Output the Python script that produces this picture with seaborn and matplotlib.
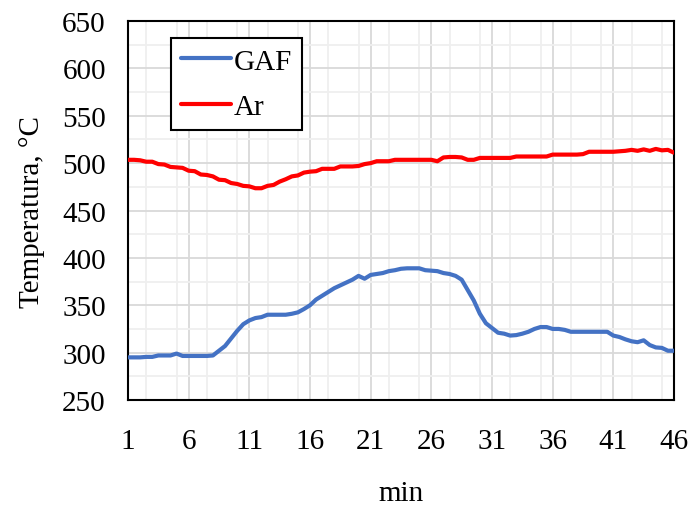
import numpy as np
import pandas as pd
import matplotlib
matplotlib.use("Agg")
import matplotlib.pyplot as plt
import seaborn as sns
from matplotlib.ticker import MultipleLocator

minutes = [1.0 + 0.5 * i for i in range(91)]

gaf = [295, 295, 295, 295.5, 295.5, 297, 297, 297, 299, 296.5,
       296.5, 296.5, 296.5, 296.5, 297, 302, 307, 315, 323, 330,
       334, 336.5, 337.5, 340, 340, 340, 340, 341, 342.5, 346,
       350, 356, 360, 364, 368, 371, 374, 377, 381, 378,
       382, 383, 384, 386, 387, 388.5, 389, 389, 389, 387,
       386.5, 386, 384, 383, 381, 377, 366, 355, 341, 331,
       326, 321, 320, 318, 318.5, 320, 322, 325, 327, 327,
       325, 325, 324, 322, 322, 322, 322, 322, 322, 322,
       318, 316.5, 314, 312, 311, 313, 308, 305.5, 305, 302,
       302]

ar = [503.5, 503.5, 503, 501.5, 501.5, 499, 498.5, 496, 495.5, 495,
      492, 491.5, 488, 487.5, 486, 482.5, 482, 479, 478, 476,
      475.5, 473.5, 473.5, 476, 477, 480.5, 483, 486, 487, 490,
      491, 491.5, 494, 494, 494, 496.5, 496.5, 496.5, 497, 499,
      500, 502, 502, 502, 503.5, 503.5, 503.5, 503.5, 503.5, 503.5,
      503.5, 502, 506, 506.5, 506.5, 506, 503.5, 503.5, 505.5, 505.5,
      505.5, 505.5, 505.5, 505.5, 507, 507, 507, 507, 507, 507,
      509, 509, 509, 509, 509, 509.5, 512, 512, 512, 512,
      512, 512.5, 513, 514, 513, 514.5, 513, 515, 513.5, 514,
      511]

series_names = ["GAF", "Ar"]
x_ticks = [1, 6, 11, 16, 21, 26, 31, 36, 41, 46]

df = pd.DataFrame({
    "min": minutes * 2,
    "T": gaf + ar,
    "series": ["GAF"] * len(gaf) + ["Ar"] * len(ar),
})

sns.set_style("white")
plt.rcParams["font.family"] = ["Liberation Serif", "DejaVu Serif"]
plt.rcParams["text.color"] = "black"
plt.rcParams["axes.labelcolor"] = "black"
plt.rcParams["xtick.color"] = "black"
plt.rcParams["ytick.color"] = "black"

fig = plt.figure(figsize=(6.9, 5.06), dpi=100)
ax = fig.add_axes([0.1855, 0.2075, 0.7913, 0.749])

sns.lineplot(data=df, x="min", y="T", hue="series", hue_order=series_names,
             palette={"GAF": "#4472C4", "Ar": "#FF0000"}, linewidth=3,
             ax=ax, legend=True, zorder=3)

ax.set_xlim(1, 46)
ax.set_ylim(250, 650)
ax.set_xticks(x_ticks)
ax.xaxis.set_minor_locator(MultipleLocator(2.5))
ax.yaxis.set_major_locator(MultipleLocator(50))
ax.yaxis.set_minor_locator(MultipleLocator(25))

ax.grid(which="major", color="#d9d9d9", linewidth=1.3, zorder=0)
ax.grid(which="minor", color="#efefef", linewidth=1.3, zorder=0)
ax.set_axisbelow(True)

for s in ax.spines.values():
    s.set_visible(True)
    s.set_color("black")
    s.set_linewidth(1.5)

ax.tick_params(axis="both", which="major", direction="out", length=5,
               width=1.5, color="black", labelcolor="black", labelsize=21)
ax.tick_params(axis="x", which="major", pad=15)
ax.tick_params(axis="y", which="major", pad=11)
ax.tick_params(which="minor", length=0)

ax.set_xlabel("min", fontsize=21, labelpad=19, color="black")
ax.set_ylabel("Temperatura, °C", fontsize=21, labelpad=12, color="black")

leg = ax.legend(loc="upper left", bbox_to_anchor=(0.079, 0.955),
                fontsize=21, frameon=True, fancybox=False, framealpha=1,
                edgecolor="black", handlelength=1.7, handletextpad=0.1,
                borderpad=0.35, labelspacing=0.65, borderaxespad=0)
leg.get_frame().set_linewidth(1.5)
for t in leg.get_texts():
    t.set_color("black")
for h in leg.get_lines():
    h.set_linewidth(3)

fig.savefig("out.png", dpi=100)
